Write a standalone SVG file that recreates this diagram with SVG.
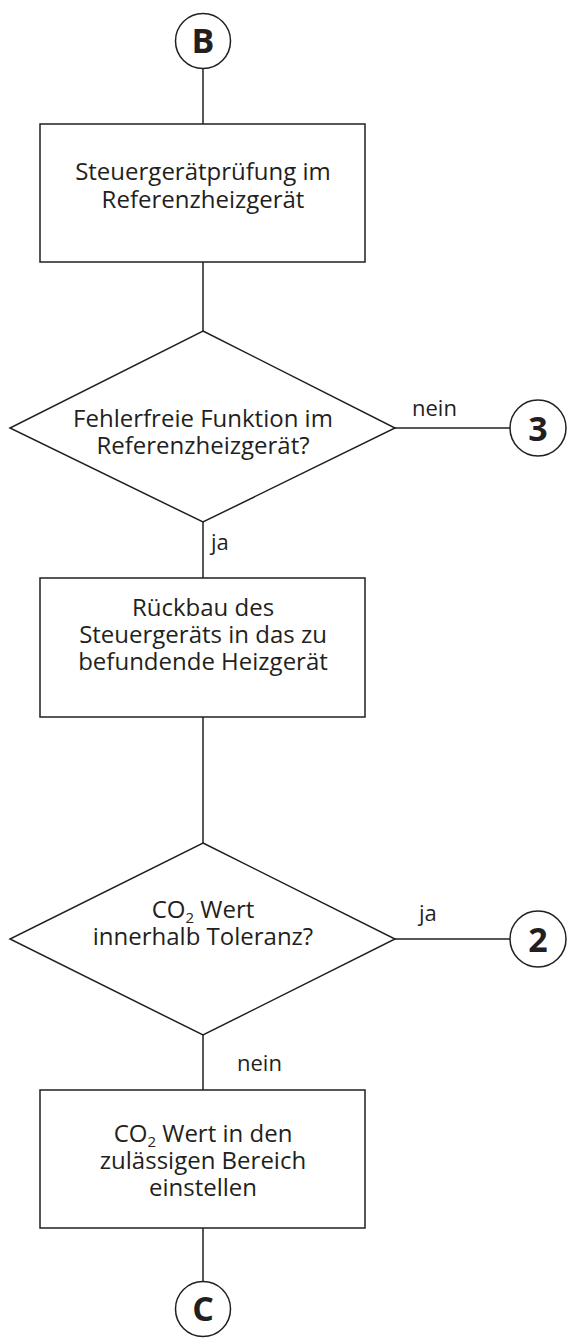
<svg xmlns="http://www.w3.org/2000/svg" width="569" height="1340" viewBox="0 0 569 1340">
<style>
.s{fill:#fff;stroke:#231f20;stroke-width:1.5}
.l{stroke:#231f20;stroke-width:1.5;fill:none}
.t{font-family:"Open Sans","Noto Sans",sans-serif;font-size:24px;fill:#231f20;text-anchor:middle}
.lb{font-family:"Open Sans","Noto Sans",sans-serif;font-size:22px;fill:#231f20}
.c{font-family:"Open Sans","Noto Sans",sans-serif;font-size:34px;font-weight:bold;fill:#231f20;text-anchor:middle}
.sub{font-size:15px}
</style>
<rect width="569" height="1340" fill="#fff"/>
<g id="connectors">
<line class="l" x1="203" y1="69" x2="203" y2="124"/>
<line class="l" x1="203" y1="262" x2="203" y2="331"/>
<line class="l" x1="395" y1="428" x2="510" y2="428"/>
<line class="l" x1="203" y1="522" x2="203" y2="578"/>
<line class="l" x1="203" y1="717" x2="203" y2="843"/>
<line class="l" x1="395" y1="939" x2="510" y2="939"/>
<line class="l" x1="203" y1="1035" x2="203" y2="1090"/>
<line class="l" x1="203" y1="1228" x2="203" y2="1281"/>
<text class="lb" x="412" y="416">nein</text>
<text class="lb" x="211" y="550">ja</text>
<text class="lb" x="419" y="921">ja</text>
<text class="lb" x="237" y="1071">nein</text>
</g>
<g id="B"><circle class="s" cx="203" cy="41" r="27.5"/><text class="c" x="203" y="53">B</text></g>
<g id="box1"><rect class="s" x="40" y="124" width="325" height="138"/>
<text class="t" x="203" y="180">Steuergerätprüfung im</text>
<text class="t" x="203" y="208">Referenzheizgerät</text></g>
<g id="dia1"><polygon class="s" points="203,331 395,428 203,522 10,428"/>
<text class="t" x="203" y="427">Fehlerfreie Funktion im</text>
<text class="t" x="203" y="454">Referenzheizgerät?</text></g>
<g id="c3"><circle class="s" cx="538" cy="428" r="28"/><text class="c" x="538" y="441">3</text></g>
<g id="box2"><rect class="s" x="40" y="578" width="325" height="139"/>
<text class="t" x="203" y="616">Rückbau des</text>
<text class="t" x="203" y="643">Steuergeräts in das zu</text>
<text class="t" x="203" y="670">befundende Heizgerät</text></g>
<g id="dia2"><polygon class="s" points="203,843 395,939 203,1035 10,939"/>
<text class="t" x="203" y="918">CO<tspan class="sub" dy="5">2</tspan><tspan dy="-5"> Wert</tspan></text>
<text class="t" x="203" y="945">innerhalb Toleranz?</text></g>
<g id="c2"><circle class="s" cx="538" cy="939" r="28"/><text class="c" x="538" y="952">2</text></g>
<g id="box3"><rect class="s" x="40" y="1090" width="325" height="138"/>
<text class="t" x="203" y="1142">CO<tspan class="sub" dy="5">2</tspan><tspan dy="-5"> Wert in den</tspan></text>
<text class="t" x="203" y="1169">zulässigen Bereich</text>
<text class="t" x="203" y="1196">einstellen</text></g>
<g id="C"><circle class="s" cx="203" cy="1309" r="27.5"/><text class="c" x="203" y="1321">C</text></g>
</svg>
